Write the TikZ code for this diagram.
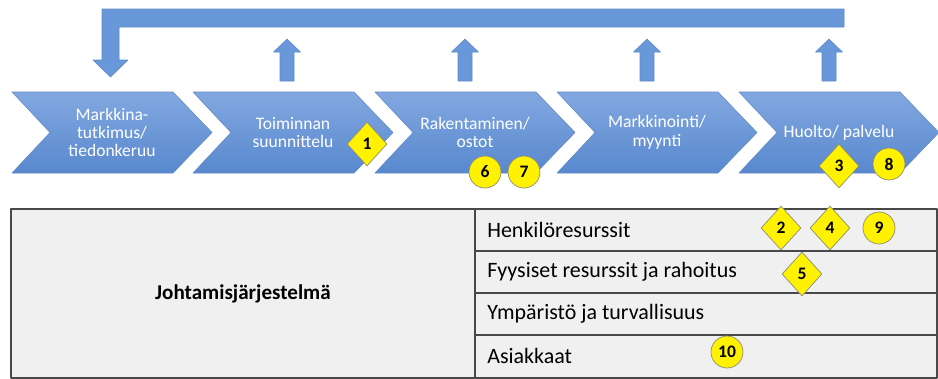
\documentclass[tikz,border=0pt]{standalone}
\usepackage{fontspec}
\setmainfont{Carlito}
\usetikzlibrary{shapes.geometric}
\definecolor{chevtop}{RGB}{130,168,224}
\definecolor{chevbot}{RGB}{88,136,206}
\definecolor{chevline}{RGB}{96,136,196}
\definecolor{barblue}{RGB}{104,152,218}
\definecolor{tablegray}{RGB}{240,240,240}
\definecolor{lineg}{RGB}{72,72,72}
\definecolor{badgeline}{RGB}{140,140,120}
\begin{document}
\begin{tikzpicture}[x=0.02cm, y=-0.02cm, line join=round,
		chev/.style={top color=chevtop, bottom color=chevbot, draw=chevline, line width=0.3pt},
		chevtext/.style={text=white, align=center, font=\fontsize{10}{10.5}\selectfont},
		blueshape/.style={fill=barblue, draw=chevline, line width=0.3pt},
		romb/.style={diamond, draw=badgeline, fill=yellow, inner sep=0pt, minimum width=0.8cm, minimum height=0.88cm, font=\bfseries\fontsize{10}{10}\selectfont},
		ympyra/.style={circle, draw=badgeline, fill=yellow, inner sep=0pt, minimum size=0.64cm, font=\bfseries\fontsize{10}{10}\selectfont},
		rivi/.style={anchor=west, inner sep=0pt, font=\fontsize{12.5}{14}\selectfont}]
	\useasboundingbox (0,0) rectangle (938,379);
	%\draw[help lines] (0,0) grid[step=50] (938,379);
	\filldraw[blueshape] (844,9) -- (102,9) -- (102,60) -- (93,60) -- (110.5,77) -- (128,60) -- (119,60) -- (119,27) -- (844,27) -- cycle;
	\foreach \x in {287,465,647,829}
		\filldraw[blueshape] (\x-7,81) -- (\x-7,52) -- (\x-13.5,52) -- (\x,39) -- (\x+13.5,52) -- (\x+7,52) -- (\x+7,81) -- cycle;
	\foreach \x/\n/\txt in {12/c1/{Markkina-\\tutkimus/\\tiedonkeruu}, 193/c2/{Toiminnan\\suunnittelu}, 375/c3/{Rakentaminen/\\ostot}, 557/c4/{Markkinointi/\\myynti}, 739/c5/{Huolto/ palvelu}}{
		\shadedraw[chev] (\x,92) -- (\x+161,92) -- (\x+200,132.5) -- (\x+161,173) -- (\x,173) -- (\x+38,132.5) -- cycle;
		\node[chevtext] (\n) at (\x+100,132.5) {\txt};
	}
	\filldraw[fill=tablegray, draw=lineg, line width=0.8pt] (11,209) rectangle (937,378);
	\draw[lineg, line width=0.8pt] (475,209) -- (475,378) (475,251) -- (937,251) (475,293) -- (937,293) (475,335) -- (937,335);
	\node[font=\bfseries\fontsize{12}{14}\selectfont] (jms) at (243,294) {Johtamisjärjestelmä};
	\node[rivi] (r1) at (487,230) {Henkilöresurssit};
	\node[rivi] (r2) at (487,272) {Fyysiset resurssit ja rahoitus};
	\node[rivi] (r3) at (487,314) {Ympäristö ja turvallisuus};
	\node[rivi] (r4) at (487,356) {Asiakkaat};
	\node[romb] (b1) at (367,144) {1};
	\node[ympyra] (b6) at (485,172) {6};
	\node[ympyra] (b7) at (524,172) {7};
	\node[romb] (b3) at (839,166) {3};
	\node[ympyra] (b8) at (889,164) {8};
	\node[romb] (b2) at (781,228) {2};
	\node[romb] (b4) at (830,228) {4};
	\node[ympyra] (b9) at (879,228) {9};
	\node[romb] (b5) at (802,274) {5};
	\node[ympyra] (b10) at (727,352) {10};
\end{tikzpicture}
\end{document}
